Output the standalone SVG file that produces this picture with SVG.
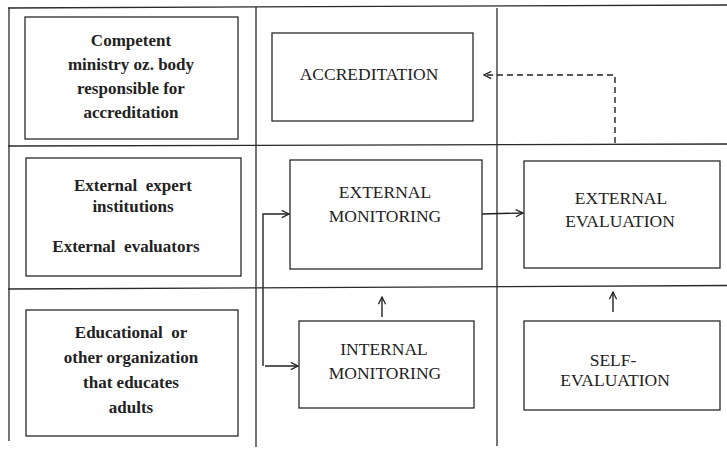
<svg xmlns="http://www.w3.org/2000/svg" width="727" height="449" viewBox="0 0 727 449">
<style>
.grid{stroke:#2a2a2a;stroke-width:1.3;fill:none}
.box{stroke:#2a2a2a;stroke-width:1.3;fill:#fff}
.b{font-weight:bold;font-size:17px;fill:#222;text-anchor:middle}
.r{font-size:17.5px;fill:#222;text-anchor:middle}
.c{stroke:#222;stroke-width:1.4;fill:none}
</style>
<defs>
<marker id="ah" viewBox="0 0 10 10" refX="9" refY="5" markerWidth="9" markerHeight="9" markerUnits="userSpaceOnUse" orient="auto">
<path d="M1,1 L9,5 L1,9" fill="none" stroke="#222" stroke-width="1.4"/>
</marker>
</defs>
<g id="grid">
<line class="grid" x1="8" y1="8" x2="727" y2="5"/>
<line class="grid" x1="8" y1="146" x2="727" y2="144"/>
<line class="grid" x1="8" y1="289" x2="727" y2="285.5"/>
<line class="grid" x1="9" y1="8" x2="9" y2="441"/>
<line class="grid" x1="256" y1="7" x2="256" y2="447"/>
<line class="grid" x1="497" y1="8" x2="497" y2="446"/>
</g>
<g font-family="'Liberation Serif', 'DejaVu Serif', serif">
<g id="n-ministry">
<rect class="box" x="25" y="17" width="213" height="122"/>
<text class="b" x="131" y="46">Competent</text>
<text class="b" x="131" y="70">ministry oz. body</text>
<text class="b" x="131" y="94">responsible for</text>
<text class="b" x="131" y="118">accreditation</text>
</g>
<g id="n-experts">
<rect class="box" x="26" y="158" width="215" height="118"/>
<text class="b" x="133" y="191" xml:space="preserve">External  expert</text>
<text class="b" x="133" y="212">institutions</text>
<text class="b" x="126" y="252" xml:space="preserve">External  evaluators</text>
</g>
<g id="n-org">
<rect class="box" x="26" y="310" width="212" height="126"/>
<text class="b" x="131" y="338" xml:space="preserve">Educational  or</text>
<text class="b" x="131" y="363">other organization</text>
<text class="b" x="131" y="388">that educates</text>
<text class="b" x="131" y="413">adults</text>
</g>
<g id="n-accreditation">
<rect class="box" x="272" y="33" width="201" height="88"/>
<text class="r" x="369" y="80">ACCREDITATION</text>
</g>
<g id="n-extmon">
<rect class="box" x="290" y="160" width="192" height="109"/>
<text class="r" x="385" y="198">EXTERNAL</text>
<text class="r" x="385" y="222">MONITORING</text>
</g>
<g id="n-exteval">
<rect class="box" x="524" y="161" width="196" height="107"/>
<text class="r" x="621" y="204">EXTERNAL</text>
<text class="r" x="620" y="227">EVALUATION</text>
</g>
<g id="n-intmon">
<rect class="box" x="299" y="321" width="175" height="87"/>
<text class="r" x="384" y="355">INTERNAL</text>
<text class="r" x="385" y="379">MONITORING</text>
</g>
<g id="n-selfeval">
<rect class="box" x="524" y="321" width="196" height="89"/>
<text class="r" x="613" y="366">SELF-</text>
<text class="r" x="615" y="386">EVALUATION</text>
</g>
</g>
<g id="connectors">
<path class="c" d="M615,143 L615,75 L484,75" stroke-dasharray="6,4" marker-end="url(#ah)"/>
<line class="c" x1="482" y1="214" x2="523" y2="213" marker-end="url(#ah)"/>
<path class="c" d="M263,366 L263,214 L289,214" marker-end="url(#ah)"/>
<line class="c" x1="265" y1="366" x2="298" y2="366" marker-end="url(#ah)"/>
<line class="c" x1="382" y1="317" x2="382" y2="297" marker-end="url(#ah)"/>
<line class="c" x1="613" y1="312" x2="613" y2="292" marker-end="url(#ah)"/>
</g>
</svg>
